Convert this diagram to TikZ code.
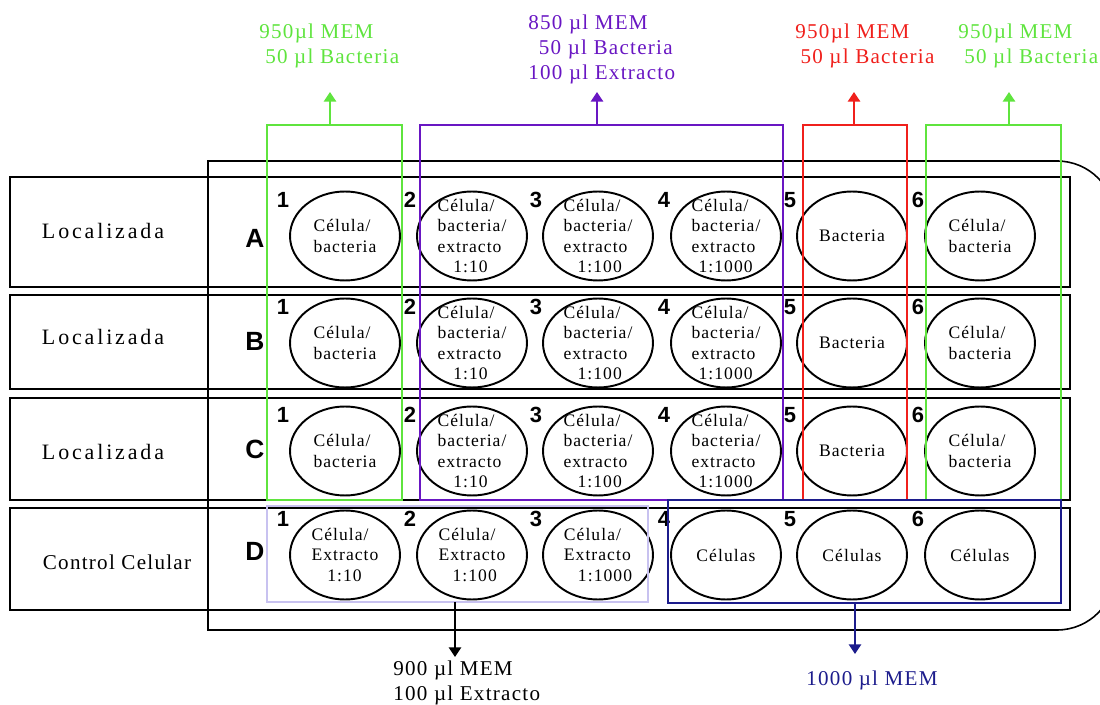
\documentclass[tikz,border=0pt]{standalone}
\usepackage{fontspec}
\setmainfont{Liberation Serif}[LetterSpace=6]
\newfontfamily\wideserif{Liberation Serif}[LetterSpace=13]
\newfontfamily\tagfont{Liberation Sans}
\usetikzlibrary{arrows.meta,shapes.geometric}
\definecolor{mixgreen}{RGB}{95,228,62}
\definecolor{mixviolet}{RGB}{105,22,195}
\definecolor{mixred}{RGB}{240,32,28}
\definecolor{mixnavy}{RGB}{28,28,140}
\definecolor{mixlav}{RGB}{200,194,240}

\begin{document}
\begin{tikzpicture}[x=0.02cm,y=-0.02cm,
  plate/.style={draw=black,line width=0.9pt},
  rowbox/.style={draw=black,line width=1.6pt},
  well/.style={draw=black,line width=1.1pt,ellipse,minimum width=2.2cm,minimum height=1.78cm,inner sep=0pt},
  welltext/.style={align=left,font=\fontsize{10}{11.6}\selectfont,inner sep=0pt},
  tag/.style={font=\tagfont\bfseries\fontsize{12.5}{12.5}\selectfont,inner sep=0pt},
  rowtag/.style={font=\tagfont\bfseries\fontsize{15}{15}\selectfont,inner sep=0pt},
  rowname/.style={font=\wideserif\fontsize{12.5}{15}\selectfont,inner sep=0pt},
  ctrlname/.style={font=\fontsize{12}{15}\selectfont,inner sep=0pt},
  mix/.style={align=left,font=\fontsize{12}{14.2}\selectfont,inner sep=0pt,anchor=west},
  group/.style={line width=1.2pt},
  up/.style={line width=1.2pt,-{Triangle[width=7pt,length=5.5pt]}},
]
\useasboundingbox (0,0) rectangle (1100,705);

% plate outline: square corners on the left, rounded on the right
\begin{scope}
  \clip (0,0) rectangle (1100,705);
  \draw[plate,rounded corners=1.16cm] (600,161) -- (1115,161) -- (1115,630) -- (600,630);
\end{scope}
\draw[plate] (600,161) -- (208,161) -- (208,630) -- (600,630);

% row frames
\draw[rowbox] (10,177) rectangle (1070,287);
\draw[rowbox] (10,295) rectangle (1070,389);
\draw[rowbox] (10,398) rectangle (1070,500);
\draw[rowbox] (10,508) rectangle (1070,610);

% row names
\node[rowname] (nA) at (103,231) {Localizada};
\node[rowname] (nB) at (103,337) {Localizada};
\node[rowname] (nC) at (103,452) {Localizada};
\node[ctrlname] (nD) at (117,562) {Control Celular};

% row letters
\foreach \r/\y in {A/238,B/341,C/449,D/551}
  \node[rowtag] (L\r) at (255,\y) {\r};

% wells and column numbers
\foreach \r/\y in {A/236,B/343,C/451,D/555}{
  \foreach \c/\x in {1/345,2/472,3/598,4/726,5/852,6/980}{
    \node[well] (w\r\c) at (\x,\y) {};
    \node[tag] (n\r\c) at (\x-62,\y-36) {\c};
  }
}

% well contents, rows A-C
\foreach \r in {A,B,C}{
  \node[welltext] (t\r1) at (w\r1) {Célula/\\bacteria};
  \node[welltext] (t\r2) at (w\r2) {Célula/\\bacteria/\\extracto\\\hspace*{9pt}1:10};
  \node[welltext] (t\r3) at (w\r3) {Célula/\\bacteria/\\extracto\\\hspace*{8pt}1:100};
  \node[welltext] (t\r4) at (w\r4) {Célula/\\bacteria/\\extracto\\\hspace*{4pt}1:1000};
  \node[welltext] (t\r5) at (w\r5) {Bacteria};
  \node[welltext] (t\r6) at (w\r6) {Célula/\\bacteria};
}

% well contents, row D
\node[welltext] (tD1) at (wD1) {Célula/\\Extracto\\\hspace*{9pt}1:10};
\node[welltext] (tD2) at (wD2) {Célula/\\Extracto\\\hspace*{8pt}1:100};
\node[welltext] (tD3) at (wD3) {Célula/\\Extracto\\\hspace*{8pt}1:1000};
\node[welltext] (tD4) at (wD4) {Células};
\node[welltext] (tD5) at (wD5) {Células};
\node[welltext] (tD6) at (wD6) {Células};

% groups of wells
\draw[group,mixgreen]  (267,125) rectangle (402,500);
\draw[group,mixviolet] (420,125) rectangle (783,500);
\draw[group,mixred]    (803,125) rectangle (907,500);
\draw[group,mixgreen]  (926,125) rectangle (1061,500);
\draw[mixlav,line width=0.8pt] (267,506) rectangle (648,602);
\draw[group,mixnavy]   (668,500) rectangle (1061,603);

% mixture labels
\node[mix,text=mixgreen]  (m1) at (259,46) {950µl MEM\\\hspace*{3.4pt}50 µl Bacteria};
\node[mix,text=mixviolet] (m2) at (528,49) {850 µl MEM\\\hspace*{6pt}50 µl Bacteria\\100 µl Extracto};
\node[mix,text=mixred]    (m3) at (795,46) {950µl MEM\\\hspace*{3pt}50 µl Bacteria};
\node[mix,text=mixgreen]  (m4) at (958,46) {950µl MEM\\\hspace*{3.4pt}50 µl Bacteria};
\node[mix,text=black]     (m5) at (393,683) {900 µl MEM\\100 µl Extracto};
\node[mix,text=mixnavy]   (m6) at (806,680) {1000 µl MEM};

% arrows leaving each group
\coordinate (g1) at (330,125);  \coordinate (g1e) at (330,92);
\coordinate (g2) at (597,125);  \coordinate (g2e) at (597,92);
\coordinate (g3) at (854,125);  \coordinate (g3e) at (854,92);
\coordinate (g4) at (1009,125); \coordinate (g4e) at (1009,92);
\coordinate (g5) at (455,602);  \coordinate (g5e) at (455,657);
\coordinate (g6) at (855,603);  \coordinate (g6e) at (855,654);
\draw[up,mixgreen]  (g1) -- (g1e);
\draw[up,mixviolet] (g2) -- (g2e);
\draw[up,mixred]    (g3) -- (g3e);
\draw[up,mixgreen]  (g4) -- (g4e);
\draw[up,black]     (g5) -- (g5e);
\draw[up,mixnavy]   (g6) -- (g6e);
\end{tikzpicture}
\end{document}
